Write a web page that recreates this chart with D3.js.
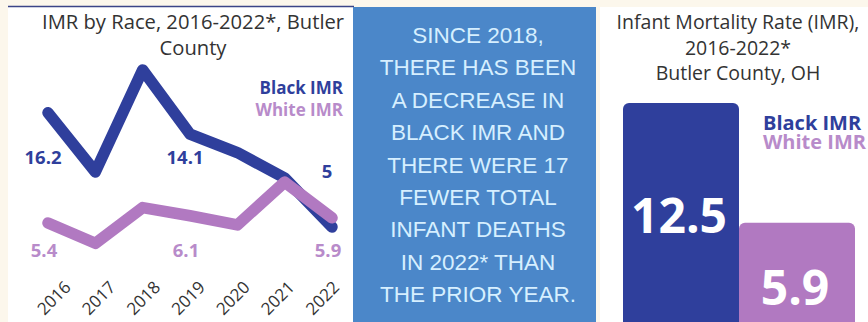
<!DOCTYPE html>
<html>
<head>
<meta charset="utf-8">
<script src="https://cdn.jsdelivr.net/npm/d3@7"></script>
<style>
  html, body { margin: 0; padding: 0; background: #fcf7ec; }
  svg { display: block; }
</style>
</head>
<body>
<svg id="chart" width="868" height="322"></svg>
<script>
// ---- data ----
const years = ["2016", "2017", "2018", "2019", "2020", "2021", "2022"];
const blackIMR = [16.2, 10.4, 20.4, 14.1, 12.3, 9.8, 5.0];
const whiteIMR = [5.4, 3.4, 6.9, 6.1, 5.2, 9.4, 5.9];
const labelledYears = ["2016", "2019", "2022"];

const summaryGroups = ["Black IMR", "White IMR"];
const summaryValues = [12.5, 5.9];

const leftTitle = ["IMR by Race, 2016-2022*, Butler", "County"];
const rightTitle = ["Infant Mortality Rate (IMR),", "2016-2022*", "Butler County, OH"];
const calloutLines = [
  "SINCE 2018,", "THERE HAS BEEN", "A DECREASE IN", "BLACK IMR AND",
  "THERE WERE 17", "FEWER TOTAL", "INFANT DEATHS", "IN 2022* THAN", "THE PRIOR YEAR."
];

// ---- styles ----
const NAVY = "#2f3f9c";
const PURPLE = "#b179c1";
const PURPLE_TEXT = "#b88bca";
const TEXT = "#333333";
const FONT = "'Open Sans', 'Noto Sans', sans-serif";

const svg = d3.select("#chart");

// panels
svg.append("rect").attr("x", 8).attr("y", 7).attr("width", 346).attr("height", 320).attr("fill", "#ffffff");
svg.append("line").attr("x1", 8).attr("x2", 354).attr("y1", 6.5).attr("y2", 6.5)
  .attr("stroke", "#3b4588").attr("stroke-width", 1.5);
svg.append("rect").attr("x", 600).attr("y", 7).attr("width", 268).attr("height", 320).attr("fill", "#ffffff");
svg.append("rect").attr("x", 353).attr("y", 7).attr("width", 243).attr("height", 320).attr("fill", "#4b87c9");

// ---- left: line chart ----
const x = d3.scalePoint().domain(years).range([48, 332]);
const xLabels = d3.scalePoint().domain(years).range([53.5, 322]);
const y = d3.scaleLinear().domain([0, 20]).range([278, 74]);

const left = svg.append("g");
left.selectAll("text.title").data(leftTitle).join("text")
  .attr("class", "title")
  .attr("x", (d, i) => i === 0 ? 42 : 193)
  .attr("y", (d, i) => 29 + i * 26)
  .attr("text-anchor", (d, i) => i === 0 ? "start" : "middle")
  .attr("font-family", FONT).attr("font-size", 20.2).attr("fill", TEXT)
  .text(d => d);

const line = d3.line().x((d, i) => x(years[i])).y(d => y(d));

[[blackIMR, NAVY], [whiteIMR, PURPLE]].forEach(([vals, color]) => {
  left.append("path")
    .datum(vals)
    .attr("d", line)
    .attr("fill", "none")
    .attr("stroke", color)
    .attr("stroke-width", 11.5)
    .attr("stroke-linejoin", "round")
    .attr("stroke-linecap", "round");
});

// year axis, labels rotated
const xAxis = d3.axisBottom(xLabels).tickSize(0).tickPadding(0);
const ax = left.append("g").attr("transform", "translate(0,298)").call(xAxis);
ax.select(".domain").remove();
ax.selectAll("text")
  .attr("font-family", FONT).attr("font-size", 17).attr("fill", TEXT)
  .attr("text-anchor", "middle")
  .attr("x", 0).attr("y", 0)
  .attr("dy", "0.35em")
  .attr("transform", "rotate(-45)");

// value labels
const blackRowY = [164, 164, 178];
labelledYears.forEach((yr, j) => {
  const i = years.indexOf(yr);
  left.append("text")
    .attr("x", x(yr) - 5).attr("y", blackRowY[j])
    .attr("text-anchor", "middle")
    .attr("font-family", FONT).attr("font-weight", 700).attr("font-size", 18.5)
    .attr("fill", NAVY)
    .text(d3.format("~g")(blackIMR[i]));
  left.append("text")
    .attr("x", x(yr) - 4).attr("y", 257)
    .attr("text-anchor", "middle")
    .attr("font-family", FONT).attr("font-weight", 700).attr("font-size", 18.5)
    .attr("fill", PURPLE_TEXT)
    .text(d3.format("~g")(whiteIMR[i]));
});

// legend
left.selectAll("text.legend").data(summaryGroups).join("text")
  .attr("class", "legend")
  .attr("x", 343).attr("y", (d, i) => 94 + i * 22)
  .attr("text-anchor", "end")
  .attr("font-family", FONT).attr("font-weight", 700).attr("font-size", 17)
  .attr("fill", (d, i) => i === 0 ? NAVY : PURPLE_TEXT)
  .text(d => d);

// ---- middle: callout ----
svg.selectAll("text.callout").data(calloutLines).join("text")
  .attr("class", "callout")
  .attr("x", 478).attr("y", (d, i) => 43 + i * 32.4)
  .attr("text-anchor", "middle")
  .attr("font-family", "'Liberation Sans', Arial, sans-serif")
  .attr("font-size", 22.5)
  .attr("fill", "#d6efff")
  .text(d => d);

// ---- right: bar chart ----
const right = svg.append("g");
right.selectAll("text.rtitle").data(rightTitle).join("text")
  .attr("class", "rtitle")
  .attr("x", 738)
  .attr("y", (d, i) => 29 + i * 25.5)
  .attr("text-anchor", "middle")
  .attr("font-family", FONT).attr("font-size", 19.5).attr("fill", TEXT)
  .text(d => d);

const xb = d3.scaleBand().domain(summaryGroups).range([623, 855]).padding(0);
const yb = d3.scaleLinear().domain([0, 12.5]).range([330, 103]);

right.selectAll("rect.bar").data(summaryValues).join("rect")
  .attr("class", "bar")
  .attr("x", (d, i) => xb(summaryGroups[i]))
  .attr("y", d => yb(d))
  .attr("width", xb.bandwidth())
  .attr("height", d => yb(0) - yb(d) + 20)
  .attr("rx", 6)
  .attr("fill", (d, i) => i === 0 ? NAVY : PURPLE);

const barLabelDy = [130, 82];
right.selectAll("text.barlabel").data(summaryValues).join("text")
  .attr("class", "barlabel")
  .attr("x", (d, i) => xb(summaryGroups[i]) + xb.bandwidth() / 2 - 2)
  .attr("y", (d, i) => yb(d) + barLabelDy[i])
  .attr("text-anchor", "middle")
  .attr("font-family", FONT).attr("font-weight", 700).attr("font-size", 48)
  .attr("fill", "#ffffff")
  .text(d => d3.format(".1f")(d));

right.selectAll("text.rlegend").data(summaryGroups).join("text")
  .attr("class", "rlegend")
  .attr("x", 763).attr("y", (d, i) => 129.5 + i * 19.5)
  .attr("font-family", FONT).attr("font-weight", 700).attr("font-size", 20)
  .attr("fill", (d, i) => i === 0 ? NAVY : PURPLE_TEXT)
  .text(d => d);
</script>
</body>
</html>
